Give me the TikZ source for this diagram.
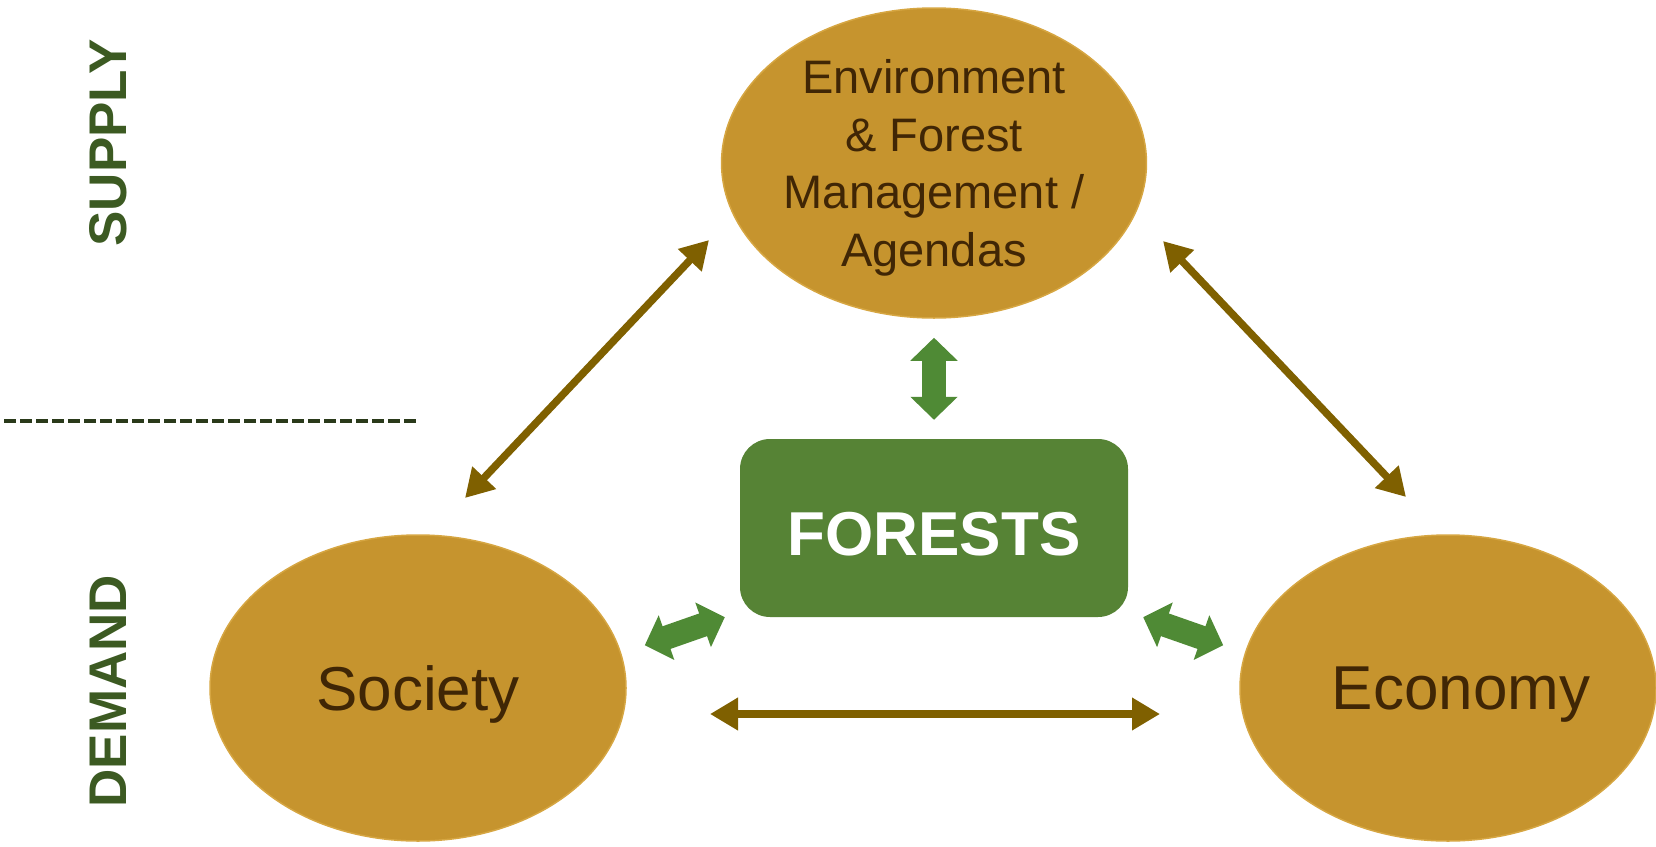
\documentclass[tikz,border=0pt]{standalone}
\usepackage{fontspec}
\setmainfont{Liberation Sans}
\usepackage{tikz}
\usetikzlibrary{arrows.meta}
\usetikzlibrary{shapes.geometric}
\definecolor{gold}{RGB}{198,148,46}
\definecolor{goldrim}{RGB}{214,166,66}
\definecolor{txtbrown}{RGB}{64,38,5}
\definecolor{arrbrown}{RGB}{127,96,0}
\definecolor{boxgreen}{RGB}{86,131,53}
\definecolor{arrgreen}{RGB}{79,138,53}
\definecolor{lblgreen}{RGB}{60,90,34}
\definecolor{dashgreen}{RGB}{42,58,26}

\begin{document}
\begin{tikzpicture}[x=1pt, y=-1pt,
		pillar/.style={ellipse, fill=gold, draw=goldrim, line width=1.5pt, inner sep=0pt,
			minimum width=416pt, minimum height=306pt, text=txtbrown, text depth=0pt,
			font=\fontsize{62}{70}\selectfont},
		brownarr/.style={draw=arrbrown, line width=7.5pt,
			{Triangle[width=31pt,length=28pt]}-{Triangle[width=31pt,length=28pt]}},
		greenarr/.style={draw=arrgreen, line width=24pt,
			{Triangle[width=46pt,length=23pt]}-{Triangle[width=46pt,length=23pt]}},
		sidelabel/.style={rotate=90, text=lblgreen, font=\fontsize{53}{60}\selectfont\bfseries}]
	\useasboundingbox (0,0) rectangle (1656,846);
	% supply / demand split
	\node[sidelabel] (supply) at (108,143) {SUPPLY};
	\node[sidelabel] (demand) at (108,691) {DEMAND};
	\draw[draw=dashgreen, line width=4pt, dash pattern=on 12pt off 4pt] (4,421) -- (417,421);
	% the three pillars
	\node[pillar, minimum width=420pt, minimum height=310pt, align=center,
		font=\fontsize{47}{57.7}\selectfont] (env) at (934,163)
		{Environment\\ \& Forest\\ Management /\\ Agendas};
	\node[pillar] (soc) at (418,688) {Society};
	\node[pillar] (eco) at (1448,688) {\hspace*{26pt}Economy};
	\node[fill=boxgreen, rounded corners=30pt, minimum width=388pt, minimum height=178pt,
		text=white, text depth=0pt, text height=54pt, font=\fontsize{62}{70}\selectfont\bfseries] (forests) at (934,528) {FORESTS};
	% links between pillars
	\draw[brownarr] ([shift={(47,-190)}]soc.center) -- ([shift={(-225,77)}]env.center);
	\draw[brownarr] ([shift={(229,78)}]env.center) -- ([shift={(-42,-191)}]eco.center);
	\draw[brownarr] ([shift={(292,26)}]soc.center) -- ([shift={(-288,26)}]eco.center);
	% links to forests
	\draw[greenarr, shorten <=19pt, shorten >=19pt] (env.south) -- (forests.north);
	\draw[greenarr] ([shift={(-95,28)}]forests.south west) -- ([shift={(-15,0)}]forests.south west);
	\draw[greenarr] ([shift={(15,0)}]forests.south east) -- ([shift={(95,28)}]forests.south east);
\end{tikzpicture}
\end{document}
